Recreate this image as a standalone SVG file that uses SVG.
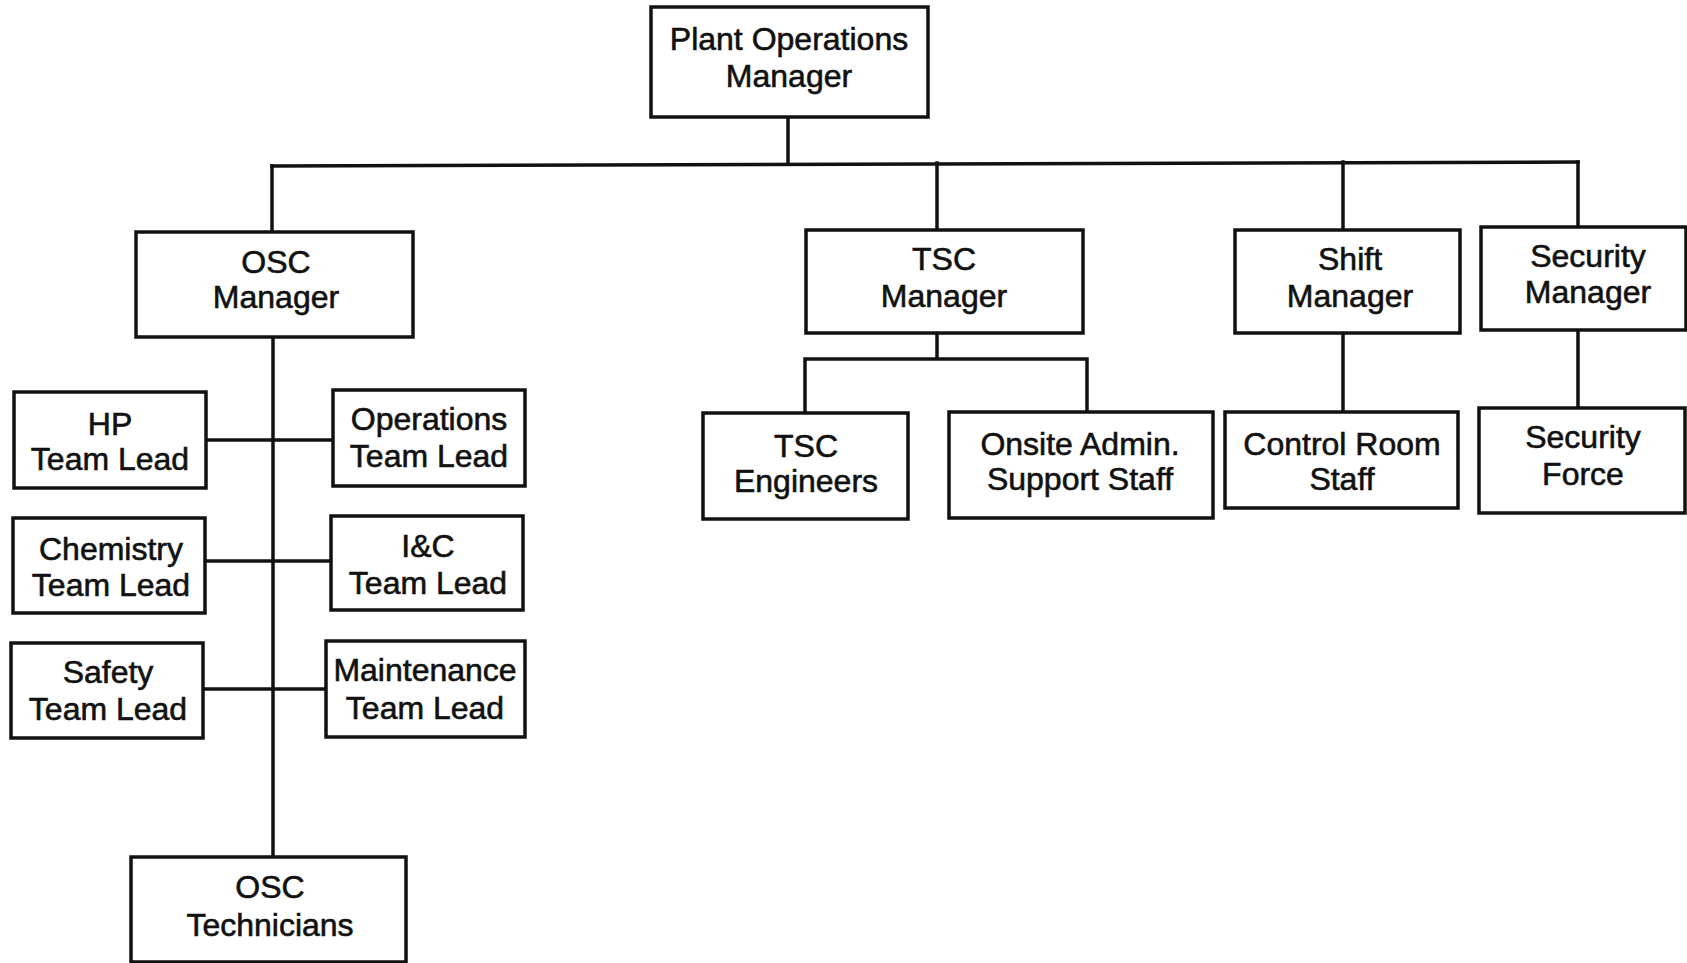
<svg xmlns="http://www.w3.org/2000/svg" width="1687" height="963" viewBox="0 0 1687 963">
<style>
.box{fill:#fff;stroke:#111;stroke-width:3.5}
.ln{fill:none;stroke:#111;stroke-width:3.5;stroke-linecap:square}
text{font-family:"Liberation Sans",Arial,sans-serif;font-size:32px;fill:#111;stroke:#111;stroke-width:0.6;text-anchor:middle}
</style>
<rect width="1687" height="963" fill="#fff"/>
<g id="connectors">
<path class="ln" d="M788 117V164"/>
<path class="ln" d="M272 166L1578 162"/>
<path class="ln" d="M272 166V232"/>
<path class="ln" d="M937 163V230"/>
<path class="ln" d="M1343 162V230"/>
<path class="ln" d="M1578 162V227"/>
<path class="ln" d="M937 333V359M805 413V359H1087V412"/>
<path class="ln" d="M1343 333V412"/>
<path class="ln" d="M1578 330V408"/>
<path class="ln" d="M273 337V857"/>
<path class="ln" d="M206 440H333"/>
<path class="ln" d="M205 561H331"/>
<path class="ln" d="M203 689H326"/>
</g>
<g id="plant-ops"><rect class="box" x="651" y="7" width="277" height="110"/><text x="789" y="50">Plant Operations</text><text x="789" y="87">Manager</text></g>
<g id="osc-manager"><rect class="box" x="136" y="232" width="277" height="105"/><text x="276" y="273">OSC</text><text x="276" y="308">Manager</text></g>
<g id="tsc-manager"><rect class="box" x="806" y="230" width="277" height="103"/><text x="944" y="270">TSC</text><text x="944" y="307">Manager</text></g>
<g id="shift-manager"><rect class="box" x="1235" y="230" width="225" height="103"/><text x="1350" y="270">Shift</text><text x="1350" y="307">Manager</text></g>
<g id="security-manager"><rect class="box" x="1481" y="227" width="205" height="103"/><text x="1588" y="267">Security</text><text x="1588" y="303">Manager</text></g>
<g id="tsc-engineers"><rect class="box" x="703" y="413" width="205" height="106"/><text x="806" y="457">TSC</text><text x="806" y="492">Engineers</text></g>
<g id="onsite-admin"><rect class="box" x="949" y="412" width="264" height="106"/><text x="1080" y="455">Onsite Admin.</text><text x="1080" y="490">Support Staff</text></g>
<g id="control-room"><rect class="box" x="1225" y="412" width="233" height="96"/><text x="1342" y="455">Control Room</text><text x="1342" y="490">Staff</text></g>
<g id="security-force"><rect class="box" x="1479" y="408" width="206" height="105"/><text x="1583" y="448">Security</text><text x="1583" y="485">Force</text></g>
<g id="hp-lead"><rect class="box" x="14" y="392" width="192" height="96"/><text x="110" y="435">HP</text><text x="110" y="470">Team Lead</text></g>
<g id="ops-lead"><rect class="box" x="333" y="390" width="192" height="96"/><text x="429" y="430">Operations</text><text x="429" y="467">Team Lead</text></g>
<g id="chem-lead"><rect class="box" x="13" y="518" width="192" height="95"/><text x="111" y="560">Chemistry</text><text x="111" y="596">Team Lead</text></g>
<g id="ic-lead"><rect class="box" x="331" y="516" width="192" height="94"/><text x="428" y="557">I&amp;C</text><text x="428" y="594">Team Lead</text></g>
<g id="safety-lead"><rect class="box" x="11" y="643" width="192" height="95"/><text x="108" y="683">Safety</text><text x="108" y="720">Team Lead</text></g>
<g id="maint-lead"><rect class="box" x="326" y="641" width="199" height="96"/><text x="425" y="681">Maintenance</text><text x="425" y="719">Team Lead</text></g>
<g id="osc-technicians"><rect class="box" x="131" y="857" width="275" height="105"/><text x="270" y="898">OSC</text><text x="270" y="936">Technicians</text></g>
</svg>
